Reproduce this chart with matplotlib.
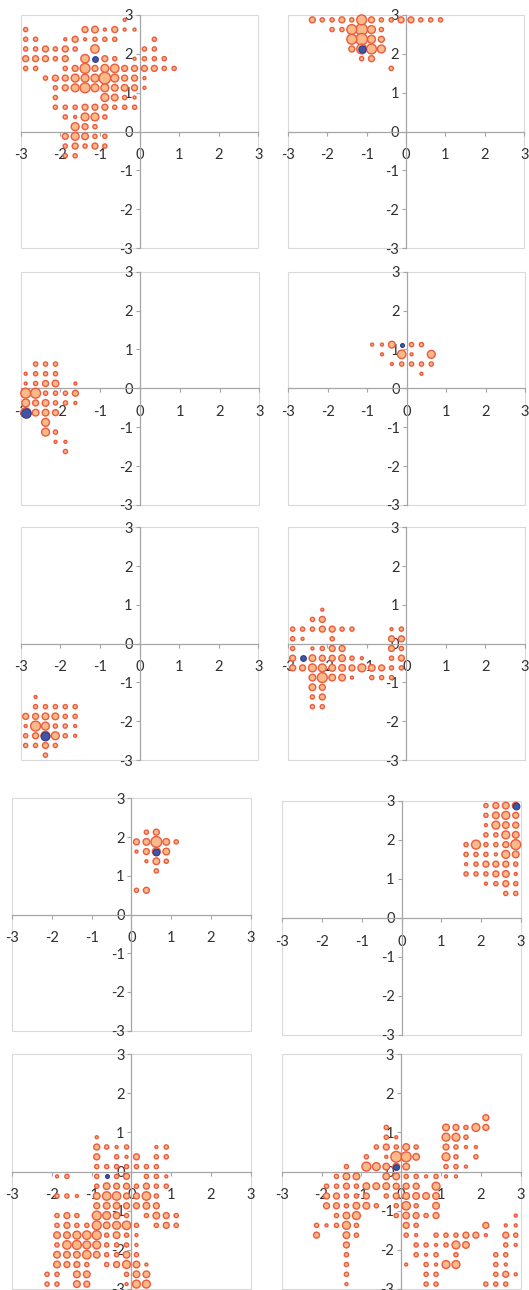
import matplotlib
matplotlib.use('Agg')
import matplotlib.pyplot as plt
from matplotlib.patches import Rectangle

plt.rcParams['font.family'] = ['Lato', 'DejaVu Sans']

TICKS = [-3, -2, -1, 0, 1, 2, 3]
TICK_LABELS = ['-3', '-2', '-1', '0', '1', '2', '3']

# (x, y, count) bubbles per panel
P1 = [(-0.375, 2.875, 1),
      (-2.875, 2.625, 2), (-1.375, 2.625, 4), (-1.125, 2.625, 5), (-0.875, 2.625, 1), (-0.625, 2.625, 4), (-0.375, 2.625, 1), (-0.125, 2.625, 1),
      (-2.875, 2.375, 2), (-2.625, 2.375, 2), (-1.875, 2.375, 1), (-1.625, 2.375, 4), (-1.375, 2.375, 1), (-1.125, 2.375, 2), (-0.875, 2.375, 2), (-0.625, 2.375, 2), (0.375, 2.375, 2),
      (-2.875, 2.125, 2), (-2.625, 2.125, 2), (-2.375, 2.125, 4), (-2.125, 2.125, 2), (-1.875, 2.125, 4), (-1.625, 2.125, 2), (-1.125, 2.125, 8), (0.125, 2.125, 2), (0.375, 2.125, 2),
      (-2.875, 1.875, 4), (-2.625, 1.875, 4), (-2.375, 1.875, 4), (-2.125, 1.875, 2), (-1.875, 1.875, 4), (-1.375, 1.875, 8), (-0.875, 1.875, 4), (-0.625, 1.875, 2), (-0.125, 1.875, 1), (0.125, 1.875, 2), (0.375, 1.875, 2), (0.625, 1.875, 2),
      (-2.875, 1.625, 2), (-2.625, 1.625, 2), (-1.875, 1.625, 2), (-1.625, 1.625, 4), (-1.375, 1.625, 11), (-1.125, 1.625, 4), (-0.875, 1.625, 7), (-0.625, 1.625, 8), (-0.375, 1.625, 4), (-0.125, 1.625, 4), (0.125, 1.625, 4), (0.375, 1.625, 4), (0.625, 1.625, 2), (0.875, 1.625, 2),
      (-2.375, 1.375, 2), (-2.125, 1.375, 4), (-1.875, 1.375, 4), (-1.625, 1.375, 7), (-1.375, 1.375, 7), (-1.125, 1.375, 7), (-0.875, 1.375, 15), (-0.625, 1.375, 7), (-0.375, 1.375, 4), (-0.125, 1.375, 4), (0.125, 1.375, 1),
      (-2.125, 1.125, 2), (-1.875, 1.125, 4), (-1.625, 1.125, 7), (-1.375, 1.125, 11), (-1.125, 1.125, 7), (-0.875, 1.125, 7), (-0.625, 1.125, 5), (-0.375, 1.125, 5), (-0.125, 1.125, 4), (0.125, 1.125, 1),
      (-2.125, 0.875, 2), (-0.875, 0.875, 7), (-0.625, 0.875, 5), (-0.375, 0.875, 2), (-0.125, 0.875, 1),
      (-2.125, 0.625, 2), (-1.875, 0.625, 2), (-1.625, 0.625, 2), (-1.375, 0.625, 4), (-1.125, 0.625, 4), (-0.875, 0.625, 4), (-0.625, 0.625, 2), (-0.375, 0.625, 2), (-0.125, 0.625, 2),
      (-1.875, 0.375, 2), (-1.625, 0.375, 1), (-1.375, 0.375, 7), (-1.125, 0.375, 7), (-0.875, 0.375, 2),
      (-1.625, 0.125, 7), (-1.375, 0.125, 4), (-1.125, 0.125, 2),
      (-1.875, -0.125, 4), (-1.625, -0.125, 7), (-1.375, -0.125, 5), (-1.125, -0.125, 2), (-0.875, -0.125, 2),
      (-1.875, -0.375, 2), (-1.625, -0.375, 4), (-1.375, -0.375, 2), (-1.125, -0.375, 4), (-0.875, -0.375, 2),
      (-1.875, -0.625, 2), (-1.625, -0.625, 2)]

P2 = [(-2.375, 2.875, 4), (-2.125, 2.875, 2), (-1.875, 2.875, 2), (-1.625, 2.875, 4), (-1.375, 2.875, 2), (-1.125, 2.875, 11), (-0.875, 2.875, 4), (-0.625, 2.875, 2), (-0.375, 2.875, 2), (-0.125, 2.875, 4), (0.125, 2.875, 4), (0.375, 2.875, 2), (0.625, 2.875, 2), (0.875, 2.875, 2),
      (-1.875, 2.625, 2), (-1.625, 2.625, 2), (-1.375, 2.625, 11), (-1.125, 2.625, 15), (-0.875, 2.625, 7), (-0.625, 2.625, 2),
      (-1.375, 2.375, 11), (-1.125, 2.375, 15), (-0.875, 2.375, 7), (-0.625, 2.375, 4),
      (-1.375, 2.125, 4), (-1.125, 2.125, 11), (-0.875, 2.125, 11), (-0.625, 2.125, 7),
      (-1.125, 1.875, 2), (-0.875, 1.875, 4),
      (-0.375, 1.625, 2)]

P3 = [(-2.625, 0.625, 2), (-2.375, 0.625, 2), (-2.125, 0.625, 2),
      (-2.875, 0.375, 1), (-2.625, 0.375, 2), (-2.375, 0.375, 2), (-2.125, 0.375, 2),
      (-2.875, 0.125, 1), (-2.625, 0.125, 2), (-2.375, 0.125, 4), (-2.125, 0.125, 5), (-1.625, 0.125, 1),
      (-2.875, -0.125, 11), (-2.625, -0.125, 11), (-2.375, -0.125, 2), (-2.125, -0.125, 2), (-1.875, -0.125, 2), (-1.625, -0.125, 4),
      (-2.875, -0.375, 7), (-2.625, -0.375, 4), (-2.375, -0.375, 5), (-2.125, -0.375, 2), (-1.875, -0.375, 2), (-1.625, -0.375, 1),
      (-2.875, -0.625, 11), (-2.625, -0.625, 5), (-2.375, -0.625, 5), (-2.125, -0.625, 4),
      (-2.375, -0.875, 7),
      (-2.375, -1.125, 7), (-2.125, -1.125, 2),
      (-2.125, -1.375, 1), (-1.875, -1.375, 1),
      (-1.875, -1.625, 2)]

P4 = [(-0.875, 1.125, 1), (-0.625, 1.125, 1), (-0.375, 1.125, 5), (0.125, 1.125, 2), (0.375, 1.125, 2),
      (-0.625, 0.875, 1), (-0.125, 0.875, 8), (0.125, 0.875, 1), (0.625, 0.875, 7),
      (-0.375, 0.625, 1), (-0.125, 0.625, 2), (0.125, 0.625, 2), (0.375, 0.625, 2), (0.625, 0.625, 2),
      (0.375, 0.375, 1)]

P5 = [(-2.625, -1.375, 1),
      (-2.625, -1.625, 2), (-2.375, -1.625, 2), (-2.125, -1.625, 2), (-1.875, -1.625, 2), (-1.625, -1.625, 2),
      (-2.875, -1.875, 4), (-2.625, -1.875, 4), (-2.375, -1.875, 5), (-2.125, -1.875, 5), (-1.875, -1.875, 2), (-1.625, -1.875, 2),
      (-2.875, -2.125, 1), (-2.625, -2.125, 11), (-2.375, -2.125, 7), (-2.125, -2.125, 2), (-1.875, -2.125, 2), (-1.625, -2.125, 1),
      (-2.875, -2.375, 2), (-2.625, -2.375, 4), (-2.375, -2.375, 9), (-2.125, -2.375, 7), (-1.875, -2.375, 2), (-1.625, -2.375, 1),
      (-2.875, -2.625, 2), (-2.625, -2.625, 2), (-2.375, -2.625, 4), (-2.125, -2.625, 2),
      (-2.375, -2.875, 2)]

P6 = [(-2.125, 0.875, 1),
      (-2.375, 0.625, 2), (-2.125, 0.625, 4),
      (-2.875, 0.375, 2), (-2.625, 0.375, 2), (-2.375, 0.375, 2), (-2.125, 0.375, 4), (-1.875, 0.375, 4), (-1.625, 0.375, 2), (-1.375, 0.375, 2), (-0.375, 0.375, 1), (-0.125, 0.375, 2),
      (-2.875, 0.125, 2), (-2.625, 0.125, 1), (-1.875, 0.125, 2), (-0.375, 0.125, 4), (-0.125, 0.125, 4),
      (-2.875, -0.125, 2), (-2.375, -0.125, 1), (-2.125, -0.125, 2), (-1.875, -0.125, 4), (-1.625, -0.125, 4), (-0.375, -0.125, 4), (-0.125, -0.125, 2),
      (-2.875, -0.375, 4), (-2.375, -0.375, 5), (-2.125, -0.375, 4), (-1.875, -0.375, 4), (-1.625, -0.375, 5), (-1.375, -0.375, 2), (-1.125, -0.375, 1), (-0.375, -0.375, 2), (-0.125, -0.375, 4),
      (-2.875, -0.625, 4), (-2.625, -0.625, 4), (-2.375, -0.625, 7), (-2.125, -0.625, 7), (-1.875, -0.625, 5), (-1.625, -0.625, 5), (-1.375, -0.625, 4), (-1.125, -0.625, 7), (-0.875, -0.625, 5), (-0.625, -0.625, 4), (-0.375, -0.625, 2), (-0.125, -0.625, 2),
      (-2.375, -0.875, 5), (-2.125, -0.875, 11), (-1.875, -0.875, 5), (-1.625, -0.875, 5), (-1.375, -0.875, 1), (-0.875, -0.875, 2), (-0.625, -0.875, 2), (-0.375, -0.875, 2),
      (-2.375, -1.125, 5), (-2.125, -1.125, 4),
      (-2.375, -1.375, 2), (-2.125, -1.375, 4),
      (-2.375, -1.625, 2), (-2.125, -1.625, 2)]

P7 = [(0.375, 2.125, 2), (0.625, 2.125, 4),
      (0.125, 1.875, 4), (0.375, 1.875, 5), (0.625, 1.875, 13), (0.875, 1.875, 5), (1.125, 1.875, 2),
      (0.125, 1.625, 1), (0.375, 1.625, 4), (0.625, 1.625, 7), (0.875, 1.625, 5),
      (0.375, 1.375, 1), (0.625, 1.375, 5), (0.875, 1.375, 2),
      (0.625, 1.125, 2),
      (0.125, 0.625, 2), (0.375, 0.625, 4)]

P8 = [(2.125, 2.875, 2), (2.375, 2.875, 4), (2.625, 2.875, 5), (2.875, 2.875, 5),
      (2.125, 2.625, 2), (2.375, 2.625, 5), (2.625, 2.625, 7), (2.875, 2.625, 4),
      (2.125, 2.375, 1), (2.375, 2.375, 7), (2.625, 2.375, 5), (2.875, 2.375, 4),
      (2.125, 2.125, 2), (2.375, 2.125, 2), (2.625, 2.125, 7), (2.875, 2.125, 5),
      (1.625, 1.875, 2), (1.875, 1.875, 9), (2.125, 1.875, 2), (2.375, 1.875, 2), (2.625, 1.875, 4), (2.875, 1.875, 11),
      (1.625, 1.625, 2), (1.875, 1.625, 2), (2.125, 1.625, 2), (2.375, 1.625, 1), (2.625, 1.625, 7), (2.875, 1.625, 5),
      (1.625, 1.375, 1), (1.875, 1.375, 2), (2.125, 1.375, 4), (2.375, 1.375, 4), (2.625, 1.375, 4), (2.875, 1.375, 2),
      (1.625, 1.125, 2), (1.875, 1.125, 2), (2.125, 1.125, 2), (2.375, 1.125, 4), (2.625, 1.125, 5), (2.875, 1.125, 1),
      (2.125, 0.875, 1), (2.375, 0.875, 2), (2.625, 0.875, 4), (2.875, 0.875, 2),
      (2.625, 0.625, 2), (2.875, 0.625, 2)]

P9 = [(-0.875, 0.875, 1),
      (-0.875, 0.625, 4), (-0.625, 0.625, 2), (-0.375, 0.625, 1), (-0.125, 0.625, 2), (0.625, 0.625, 1), (0.875, 0.625, 2),
      (-0.875, 0.375, 4), (-0.375, 0.375, 2), (-0.125, 0.375, 1), (0.125, 0.375, 4), (0.625, 0.375, 2), (0.875, 0.375, 2),
      (-0.875, 0.125, 2), (-0.625, 0.125, 2), (-0.375, 0.125, 2), (-0.125, 0.125, 2), (0.125, 0.125, 2), (0.375, 0.125, 2), (0.625, 0.125, 2),
      (-1.875, -0.125, 1), (-1.625, -0.125, 2), (-0.875, -0.125, 2), (-0.375, -0.125, 2), (-0.125, -0.125, 4), (0.375, -0.125, 2), (0.625, -0.125, 2), (0.875, -0.125, 1),
      (-0.875, -0.375, 2), (-0.625, -0.375, 5), (-0.375, -0.375, 4), (-0.125, -0.375, 4), (0.125, -0.375, 2), (0.375, -0.375, 4), (0.625, -0.375, 2), (0.875, -0.375, 2),
      (-1.875, -0.625, 2), (-1.625, -0.625, 2), (-1.375, -0.625, 1), (-0.875, -0.625, 5), (-0.625, -0.625, 8), (-0.375, -0.625, 8), (-0.125, -0.625, 4), (0.125, -0.625, 4), (0.375, -0.625, 8), (0.625, -0.625, 2),
      (-0.875, -0.875, 4), (-0.625, -0.875, 5), (-0.375, -0.875, 5), (-0.125, -0.875, 4), (0.125, -0.875, 4), (0.375, -0.875, 5), (0.625, -0.875, 4),
      (-1.875, -1.125, 2), (-1.625, -1.125, 4), (-1.375, -1.125, 2), (-0.875, -1.125, 9), (-0.625, -1.125, 7), (-0.375, -1.125, 5), (-0.125, -1.125, 2), (0.375, -1.125, 2), (0.625, -1.125, 5), (0.875, -1.125, 4), (1.125, -1.125, 2),
      (-1.875, -1.375, 2), (-1.625, -1.375, 4), (-1.375, -1.375, 2), (-1.125, -1.375, 2), (-0.875, -1.375, 9), (-0.625, -1.375, 5), (-0.375, -1.375, 7), (-0.125, -1.375, 8), (0.125, -1.375, 2), (0.625, -1.375, 2), (0.875, -1.375, 4), (1.125, -1.375, 2),
      (-1.875, -1.625, 5), (-1.625, -1.625, 5), (-1.375, -1.625, 7), (-1.125, -1.625, 8), (-0.875, -1.625, 9), (-0.625, -1.625, 2), (-0.375, -1.625, 5), (-0.125, -1.625, 2), (0.125, -1.625, 1),
      (-1.875, -1.875, 2), (-1.625, -1.875, 8), (-1.375, -1.875, 9), (-1.125, -1.875, 7), (-0.875, -1.875, 7), (-0.625, -1.875, 2), (-0.375, -1.875, 2), (-0.125, -1.875, 2), (0.125, -1.875, 1),
      (-1.875, -2.125, 5), (-1.625, -2.125, 5), (-1.375, -2.125, 5), (-1.125, -2.125, 8), (-0.875, -2.125, 5), (-0.625, -2.125, 2), (-0.375, -2.125, 2), (-0.125, -2.125, 5), (0.125, -2.125, 2),
      (-1.875, -2.375, 5), (-1.625, -2.375, 4), (-1.375, -2.375, 4), (-1.125, -2.375, 2), (-0.625, -2.375, 2), (-0.375, -2.375, 4), (-0.125, -2.375, 7), (0.125, -2.375, 5), (0.375, -2.375, 1),
      (-2.125, -2.625, 2), (-1.875, -2.625, 2), (-1.375, -2.625, 5), (-1.125, -2.625, 5), (-0.125, -2.625, 2), (0.125, -2.625, 5), (0.375, -2.625, 5),
      (-2.125, -2.875, 2), (-1.875, -2.875, 2), (-1.375, -2.875, 5), (-1.125, -2.875, 4), (-0.125, -2.875, 1), (0.125, -2.875, 7), (0.375, -2.875, 7)]

P10 = [(2.125, 1.375, 4),
       (-0.375, 1.125, 2), (1.125, 1.125, 5), (1.375, 1.125, 4), (1.625, 1.125, 2), (1.875, 1.125, 7), (2.125, 1.125, 4),
       (-0.375, 0.875, 2), (-0.125, 0.875, 1), (1.125, 0.875, 7), (1.375, 0.875, 7), (1.625, 0.875, 2),
       (-0.625, 0.625, 2), (-0.375, 0.625, 4), (-0.125, 0.625, 2), (0.125, 0.625, 5), (0.375, 0.625, 2), (1.125, 0.625, 4), (1.375, 0.625, 2), (1.625, 0.625, 1), (1.875, 0.625, 1),
       (-0.875, 0.375, 2), (-0.375, 0.375, 1), (-0.125, 0.375, 13), (0.125, 0.375, 11), (0.375, 0.375, 5), (1.125, 0.375, 7), (1.375, 0.375, 2), (1.875, 0.375, 2),
       (-1.375, 0.125, 2), (-0.875, 0.125, 9), (-0.625, 0.125, 7), (-0.375, 0.125, 5), (-0.125, 0.125, 5), (0.125, 0.125, 5), (1.125, 0.125, 2), (1.375, 0.125, 2), (1.625, 0.125, 1),
       (-1.625, -0.125, 2), (-1.375, -0.125, 5), (-1.125, -0.125, 5), (-0.375, -0.125, 5), (-0.125, -0.125, 5), (0.125, -0.125, 2), (0.375, -0.125, 2), (0.625, -0.125, 1), (0.875, -0.125, 2), (1.125, -0.125, 1), (1.375, -0.125, 1),
       (-1.875, -0.375, 2), (-1.625, -0.375, 2), (-1.375, -0.375, 4), (-1.125, -0.375, 2), (-0.875, -0.375, 5), (-0.625, -0.375, 5), (-0.375, -0.375, 5), (-0.125, -0.375, 4), (0.125, -0.375, 4), (0.375, -0.375, 4), (0.875, -0.375, 7),
       (-1.875, -0.625, 4), (-1.625, -0.625, 4), (-1.375, -0.625, 2), (-1.125, -0.625, 2), (-0.875, -0.625, 4), (-0.375, -0.625, 2), (-0.125, -0.625, 4), (0.125, -0.625, 5), (0.375, -0.625, 5), (0.625, -0.625, 5), (0.875, -0.625, 5),
       (-1.875, -0.875, 4), (-1.625, -0.875, 4), (-1.375, -0.875, 2), (-1.125, -0.875, 5), (-0.875, -0.875, 5), (-0.625, -0.875, 2), (-0.125, -0.875, 2), (0.125, -0.875, 8), (0.375, -0.875, 2), (0.875, -0.875, 5),
       (-1.625, -1.125, 2), (-1.375, -1.125, 5), (-1.125, -1.125, 7), (-0.125, -1.125, 2), (0.125, -1.125, 5), (0.375, -1.125, 4), (0.625, -1.125, 2), (0.875, -1.125, 4), (2.875, -1.125, 1),
       (-2.125, -1.375, 2), (-1.875, -1.375, 1), (-1.625, -1.375, 2), (-1.375, -1.375, 7), (-1.125, -1.375, 2), (0.125, -1.375, 4), (0.375, -1.375, 2), (2.125, -1.375, 4), (2.625, -1.375, 1), (2.875, -1.375, 1),
       (-2.125, -1.625, 4), (-1.375, -1.625, 5), (-1.125, -1.625, 2), (0.125, -1.625, 2), (0.375, -1.625, 1), (0.875, -1.625, 2), (1.125, -1.625, 2), (1.375, -1.625, 2), (1.625, -1.625, 4), (1.875, -1.625, 4), (2.125, -1.625, 1), (2.625, -1.625, 4), (2.875, -1.625, 2),
       (-1.375, -1.875, 4), (0.375, -1.875, 2), (0.625, -1.875, 2), (0.875, -1.875, 1), (1.125, -1.875, 2), (1.375, -1.875, 7), (1.625, -1.875, 5), (2.625, -1.875, 2), (2.875, -1.875, 1),
       (-1.375, -2.125, 2), (0.375, -2.125, 2), (0.625, -2.125, 1), (0.875, -2.125, 2), (1.375, -2.125, 2), (2.375, -2.125, 2), (2.625, -2.125, 2),
       (-1.375, -2.375, 2), (0.125, -2.375, 1), (0.625, -2.375, 2), (0.875, -2.375, 1), (1.125, -2.375, 7), (1.375, -2.375, 7), (2.375, -2.375, 2), (2.625, -2.375, 1),
       (-1.375, -2.625, 2), (0.625, -2.625, 2), (0.875, -2.625, 2), (2.375, -2.625, 2), (2.625, -2.625, 4), (2.875, -2.625, 1),
       (-1.375, -2.875, 1), (0.625, -2.875, 2), (0.875, -2.875, 2), (2.125, -2.875, 2), (2.375, -2.875, 2), (2.625, -2.875, 2)]

PANELS = [P1, P2, P3, P4, P5, P6, P7, P8, P9, P10]

# highlighted (blue) point of each panel
BLUE_X = [-1.125, -1.125, -2.875, -0.125, -2.375, -2.625, 0.625, 2.875, -0.625, -0.125]
BLUE_Y = [1.875, 2.125, -0.625, 1.125, -2.375, -0.375, 1.625, 2.875, -0.125, 0.125]
BLUE_V = [3.7, 5.9, 10.0, 1.7, 8.4, 3.7, 5.1, 5.1, 1.7, 3.7]

# ---------------- layout / style ----------------
W, H = 529, 1290
BOXES = [(20.7, 15, 258.3, 248), (287.7, 15, 524.3, 248),
         (20.7, 271.7, 259.3, 505), (288.3, 271.7, 525, 505),
         (20.7, 527.3, 258.3, 760), (287.7, 527.3, 525, 760),
         (12.3, 798.3, 250.7, 1030.7), (282.3, 800.7, 520.7, 1035),
         (12.3, 1054, 250.7, 1289), (281.7, 1054, 520.7, 1289)]

SCALE = 4.6
FILL = '#F7BA88'
EDGE = '#EE5A3C'
AXIS_COL = '#A6A6A6'
BORDER_COL = '#D9D9D9'
TEXT_COL = '#303030'

fig = plt.figure(figsize=(W / 100, H / 100), dpi=100)
for k, (box, pts) in enumerate(zip(BOXES, PANELS)):
    l, t, r, b = box
    ax = fig.add_axes([l / W, 1 - b / H, (r - l) / W, (b - t) / H])
    ax.set_xlim(-3, 3)
    ax.set_ylim(-3, 3)
    ax.patch.set_alpha(0)
    for s in ['top', 'right']:
        ax.spines[s].set_visible(False)
    for s in ['left', 'bottom']:
        ax.spines[s].set_position(('data', 0))
        ax.spines[s].set_color(AXIS_COL)
        ax.spines[s].set_linewidth(0.9)
    ax.add_patch(Rectangle((0, 0), 1, 1, transform=ax.transAxes, fill=False,
                           ec=BORDER_COL, lw=0.8, clip_on=False, zorder=0))
    ax.set_xticks(TICKS)
    ax.set_xticklabels(TICK_LABELS)
    ax.set_yticks(TICKS)
    ax.set_yticklabels(TICK_LABELS)
    ax.tick_params(axis='x', direction='out', length=3, width=0.8, color=AXIS_COL,
                   pad=9, labelsize=10.5, labelcolor=TEXT_COL)
    ax.tick_params(axis='y', direction='out', length=3, width=0.8, color=AXIS_COL,
                   pad=2, labelsize=10.5, labelcolor=TEXT_COL)

    pts_sorted = sorted(pts, key=lambda p: -p[2])
    xs = [p[0] for p in pts_sorted]
    ys = [p[1] for p in pts_sorted]
    vs = [p[2] * SCALE for p in pts_sorted]
    ax.scatter(xs, ys, s=vs, c=FILL, edgecolors=EDGE, linewidths=1.0, zorder=3, clip_on=False)
    ax.scatter([BLUE_X[k]], [BLUE_Y[k]], s=[BLUE_V[k] * SCALE], c='#3F56A8',
               edgecolors='#2E3C88', linewidths=0.8, zorder=4, clip_on=False)

fig.savefig('out.png', dpi=100)
